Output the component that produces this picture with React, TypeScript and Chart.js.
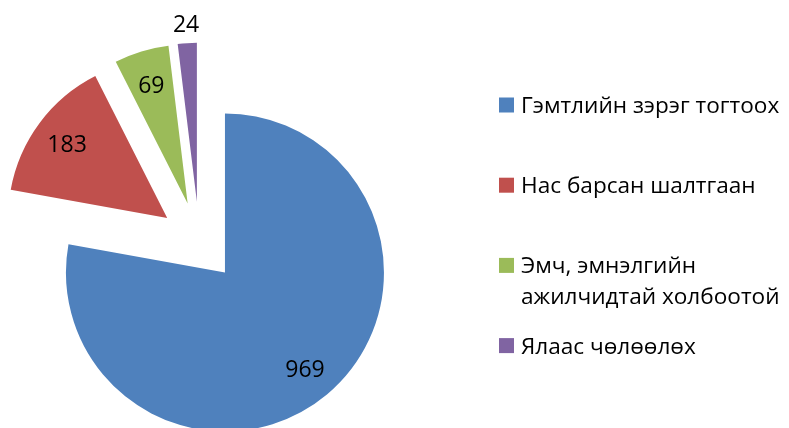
import React, { useEffect, useRef } from 'react';
import { Chart, registerables } from 'chart.js';

Chart.register(...registerables);

// ---- data ----
const categories = [
  'Гэмтлийн зэрэг тогтоох',
  'Нас барсан шалтгаан',
  'Эмч, эмнэлгийн ажилчидтай холбоотой',
  'Ялаас чөлөөлөх',
];
const values = [969, 183, 69, 24];
const colors = ['#4F81BD', '#C0504D', '#9BBB59', '#8064A2'];

// ---- style ----
const FONT = '"Open Sans", "Noto Sans", sans-serif';
const EXPLODE = 40;
const RADIUS = 159;
const LABEL_SIZE = 23;
const LABEL_RADIAL = 0.785;
const LABEL_OUTSIDE_GAP = 20;
const LEGEND_SIZE = 22.6;
const LEGEND_BOX_X = 499;
const LEGEND_BOX = 15;
const LEGEND_TEXT_X = 521;
const LEGEND_FIRST_BASELINE = 113;
const LEGEND_STEP = 80.2;
const LEGEND_LINE_H = 30.7;
const LEGEND_MAX_W = 266;

const explodePlugin = {
  id: 'explodeSlices',
  afterDatasetsUpdate(chart: any) {
    const meta = chart.getDatasetMeta(0);
    meta.data.forEach((arc: any) => {
      const mid = (arc.startAngle + arc.endAngle) / 2;
      arc.x += Math.cos(mid) * EXPLODE;
      arc.y += Math.sin(mid) * EXPLODE;
    });
  },
};

const sliceLabelPlugin = {
  id: 'sliceLabels',
  afterDatasetsDraw(chart: any) {
    const ctx = chart.ctx as CanvasRenderingContext2D;
    const meta = chart.getDatasetMeta(0);
    const data = chart.data.datasets[0].data as number[];
    ctx.save();
    ctx.font = `${LABEL_SIZE}px ${FONT}`;
    ctx.fillStyle = '#000';
    ctx.textAlign = 'center';
    ctx.textBaseline = 'alphabetic';
    meta.data.forEach((arc: any, i: number) => {
      const txt = String(data[i]);
      const m = ctx.measureText(txt);
      const mid = (arc.startAngle + arc.endAngle) / 2;
      const span = arc.endAngle - arc.startAngle;
      let d = arc.outerRadius * LABEL_RADIAL;
      if (d * span < m.width * 1.2) d = arc.outerRadius + LABEL_OUTSIDE_GAP;
      const x = arc.x + Math.cos(mid) * d;
      const y = arc.y + Math.sin(mid) * d;
      ctx.fillText(txt, x, y + m.actualBoundingBoxAscent / 2);
    });
    ctx.restore();
  },
};

function wrap(ctx: CanvasRenderingContext2D, text: string, maxW: number): string[] {
  const words = text.split(' ');
  const lines: string[] = [];
  let cur = '';
  words.forEach((w) => {
    const test = cur ? cur + ' ' + w : w;
    if (cur && ctx.measureText(test).width > maxW) {
      lines.push(cur);
      cur = w;
    } else {
      cur = test;
    }
  });
  if (cur) lines.push(cur);
  return lines;
}

const legendPlugin = {
  id: 'sideLegend',
  afterDraw(chart: any) {
    const ctx = chart.ctx as CanvasRenderingContext2D;
    const labels = chart.data.labels as string[];
    const bg = chart.data.datasets[0].backgroundColor as string[];
    ctx.save();
    ctx.font = `${LEGEND_SIZE}px ${FONT}`;
    ctx.textAlign = 'left';
    ctx.textBaseline = 'alphabetic';
    labels.forEach((lab, i) => {
      const base = LEGEND_FIRST_BASELINE + i * LEGEND_STEP;
      ctx.fillStyle = bg[i];
      ctx.fillRect(LEGEND_BOX_X, base - LEGEND_BOX - 0.5, LEGEND_BOX, LEGEND_BOX);
      ctx.fillStyle = '#000';
      const lines = wrap(ctx, lab, LEGEND_MAX_W);
      lines.forEach((ln, j) => {
        ctx.fillText(ln, LEGEND_TEXT_X, base + j * LEGEND_LINE_H);
      });
    });
    ctx.restore();
  },
};

export default function App() {
  const ref = useRef<HTMLCanvasElement>(null);
  useEffect(() => {
    if (!ref.current) return;
    const chart = new Chart(ref.current, {
      type: 'pie',
      data: {
        labels: categories,
        datasets: [
          {
            data: values,
            backgroundColor: colors,
            borderWidth: 0,
          },
        ],
      },
      options: {
        responsive: false,
        animation: false,
        events: [],
        radius: RADIUS,
        layout: { padding: { left: 0, top: 55.6, right: 390.4, bottom: 0 } },
        plugins: {
          legend: { display: false },
          tooltip: { enabled: false },
        },
      } as any,
      plugins: [explodePlugin, sliceLabelPlugin, legendPlugin],
    });
    return () => chart.destroy();
  }, []);
  return (
    <div style={{ position: 'absolute', left: 0, top: 0, width: 789, height: 428, background: '#fff' }}>
      <canvas ref={ref} width={789} height={428} style={{ display: 'block' }} />
    </div>
  );
}
